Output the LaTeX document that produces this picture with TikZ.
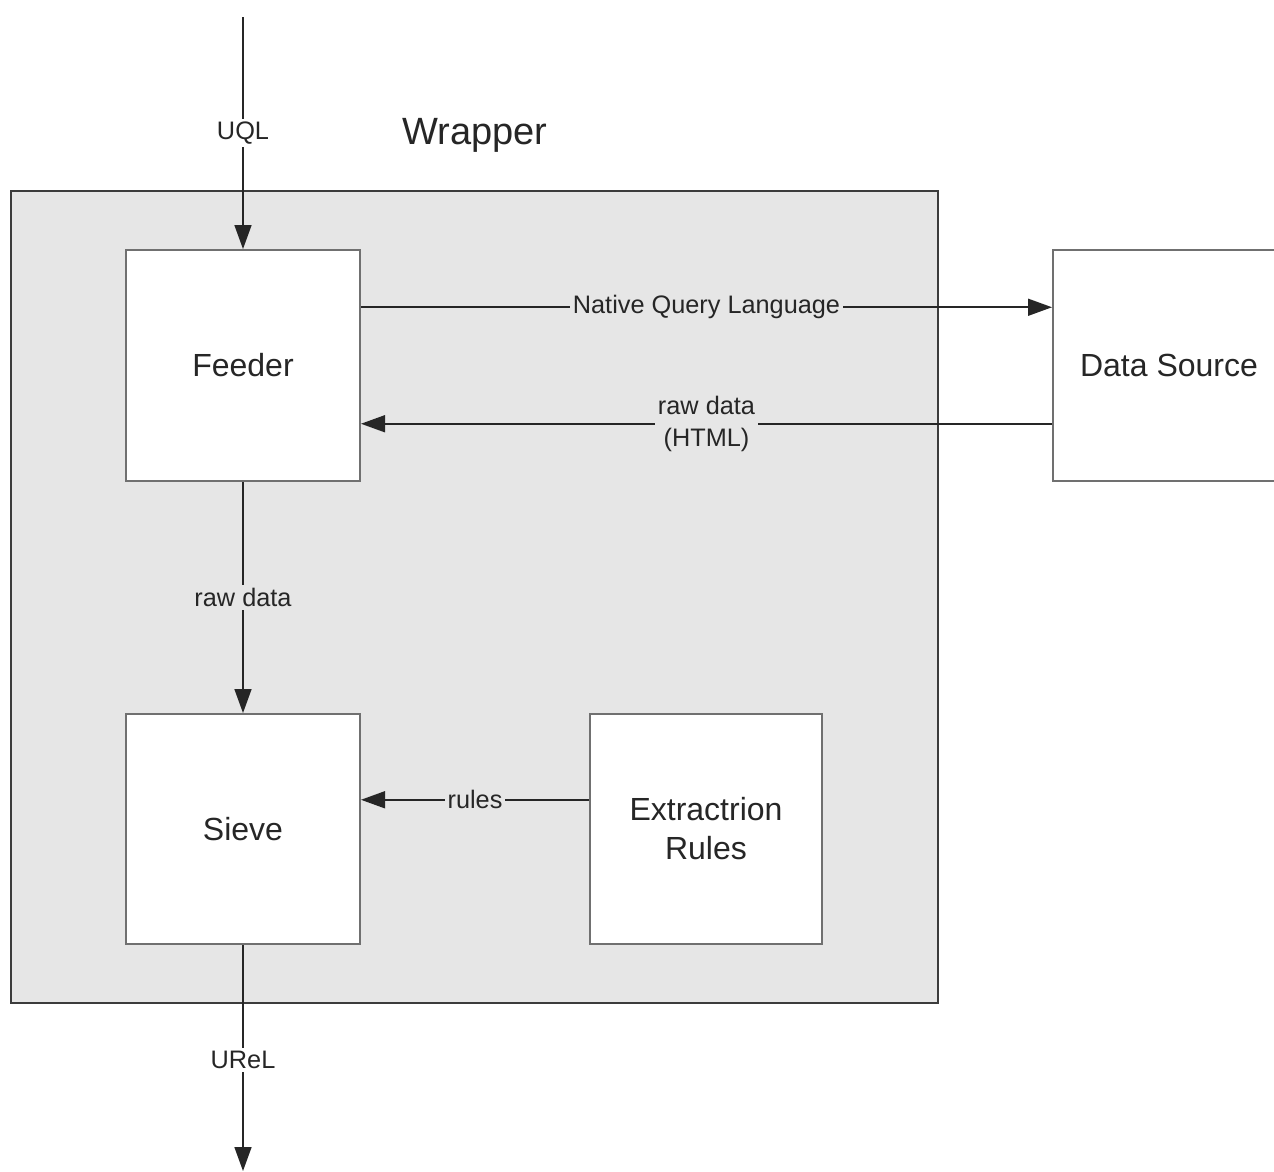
\documentclass[tikz,border=0pt]{standalone}
\usepackage{fontspec}
\setmainfont{Liberation Sans}
\usetikzlibrary{arrows.meta,calc}
\definecolor{wrapbg}{HTML}{E6E6E6}
\definecolor{boxline}{HTML}{707070}
\definecolor{ink}{HTML}{262626}
\begin{document}
\begin{tikzpicture}[x=1pt,y=-1pt,
  block/.style={draw=boxline, line width=2pt, fill=white, inner sep=0pt,
    minimum width=234pt, minimum height=231pt,
    font=\fontsize{32}{39}\selectfont, text=ink, align=center},
  flow/.style={draw=ink, line width=1.6pt, -{Triangle[length=24pt,width=17pt]}},
  lbl/.style={fill=#1, inner sep=3pt, font=\fontsize{25.3}{32}\selectfont,
    text=ink, align=center},
  lbl/.default=wrapbg
]
\clip (0,0) rectangle (1274,1171);
\fill[white] (0,0) rectangle (1274,1171);

% wrapper frame and its title
\node[draw=ink!90, line width=2pt, fill=wrapbg, inner sep=0pt,
  minimum width=927pt, minimum height=812pt] (wrapper) at (474.5,597) {};
\node[font=\fontsize{38}{44}\selectfont, text=ink] (wraptitle) at (475,135) {Wrapper};

% components
\node[block] (feeder) at (243,365.5) {Feeder};
\node[block, minimum height=230pt] (sieve) at (243,829) {Sieve};
\node[block, minimum width=232pt, minimum height=230pt] (rules) at (706,829) {Extractrion\\Rules};
\node[block, minimum width=232pt] (source) at (1169,365.5) {Data Source};

% free ends of the outer flow
\coordinate (uqlin) at (243,17);
\coordinate (urelout) at (243,1171);

% connectors
\draw[flow] (uqlin) -- node[lbl=white] {UQL} (feeder.north);
\draw[flow] ($(feeder.north east)!0.25!(feeder.south east)$)
  -- node[lbl] {Native Query Language} ($(source.north west)!0.25!(source.south west)$);
\draw[flow] ($(source.north west)!0.75!(source.south west)$)
  -- node[lbl] {raw data\\(HTML)} ($(feeder.north east)!0.75!(feeder.south east)$);
\draw[flow] (feeder.south) -- node[lbl] {raw data} (sieve.north);
\draw[flow] ($(rules.north west)!0.374!(rules.south west)$)
  -- node[lbl] {rules} ($(sieve.north east)!0.374!(sieve.south east)$);
\draw[flow] (sieve.south) -- node[lbl=white, pos=0.51] {UReL} (urelout);
\end{tikzpicture}
\end{document}
